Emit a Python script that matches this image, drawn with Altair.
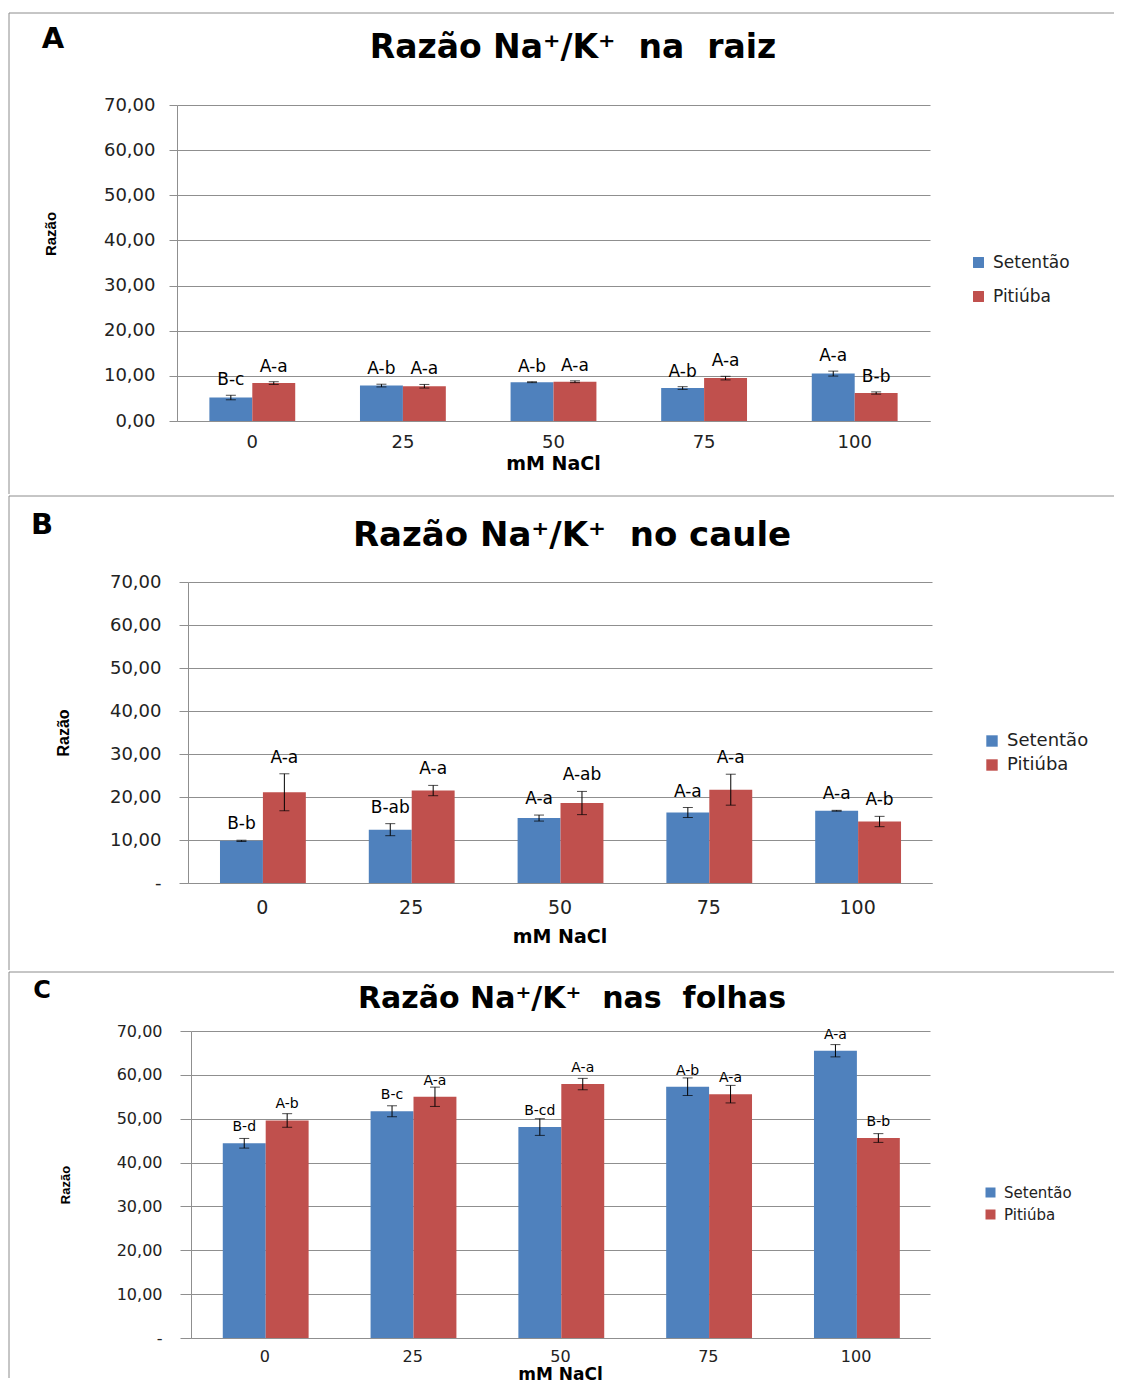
import altair as alt
import pandas as pd

# ---------------- data ----------------
concentrations = ["0", "25", "50", "75", "100"]
cultivars = ["Setentão", "Pitiúba"]
colors = ["#4F81BD", "#C0504D"]

raiz_setentao = [5.2, 7.85, 8.6, 7.3, 10.5]
raiz_setentao_err = [0.5, 0.3, 0.1, 0.3, 0.55]
raiz_setentao_lbl = ["B-c", "A-b", "A-b", "A-b", "A-a"]
raiz_pitiuba = [8.4, 7.7, 8.7, 9.5, 6.2]
raiz_pitiuba_err = [0.3, 0.4, 0.2, 0.4, 0.25]
raiz_pitiuba_lbl = ["A-a", "A-a", "A-a", "A-a", "B-b"]

caule_setentao = [9.8, 12.4, 15.1, 16.4, 16.8]
caule_setentao_err = [0.15, 1.4, 0.7, 1.15, 0.1]
caule_setentao_lbl = ["B-b", "B-ab", "A-a", "A-a", "A-a"]
caule_pitiuba = [21.1, 21.5, 18.6, 21.7, 14.3]
caule_pitiuba_err = [4.3, 1.2, 2.7, 3.6, 1.2]
caule_pitiuba_lbl = ["A-a", "A-a", "A-ab", "A-a", "A-b"]

folhas_setentao = [44.4, 51.7, 48.1, 57.3, 65.5]
folhas_setentao_err = [1.1, 1.25, 1.9, 2.0, 1.4]
folhas_setentao_lbl = ["B-d", "B-c", "B-cd", "A-b", "A-a"]
folhas_pitiuba = [49.6, 55.0, 57.9, 55.6, 45.6]
folhas_pitiuba_err = [1.55, 2.2, 1.3, 2.0, 1.0]
folhas_pitiuba_lbl = ["A-b", "A-a", "A-a", "A-a", "B-b"]

NB = "\u00a0"
titles = ["Razão Na⁺/K⁺" + NB * 2 + "na" + NB * 2 + "raiz",
          "Razão Na⁺/K⁺" + NB * 2 + "no caule",
          "Razão Na⁺/K⁺" + NB * 2 + "nas" + NB * 2 + "folhas"]
letters = ["A", "B", "C"]
y_title = "Razão"
x_title = "mM NaCl"
y_ticks = [0, 10, 20, 30, 40, 50, 60, 70]

GRID = "#8f8f8f"
BORDER = "#8c8c8c"
FONT = "DejaVu Sans"
X0 = 176          # common group origin (page x) shared by all panels
RIGHT_END = 1113
BOTTOM_END = 1378


def make_df(vs, es, ls, vp, ep, lp):
    rows = []
    for cult, vals, errs, lbls in ((cultivars[0], vs, es, ls), (cultivars[1], vp, ep, lp)):
        for c, v, e, l in zip(concentrations, vals, errs, lbls):
            rows.append({"conc": c, "cultivar": cult, "value": v,
                         "lo": v - e, "hi": v + e, "label": l})
    return pd.DataFrame(rows)


def one(text):
    return pd.DataFrame({"t": [text]})


def panel(df, idx, L):
    W, H = L["w"], L["h"]
    dx = L["left"] - X0
    ox, oy = X0, L["top"]
    zero_lbl = "'0,00'" if idx == 0 else "'-'"
    lab_expr = ("datum.value == 0 ? " + zero_lbl +
                " : replace(format(datum.value, '.2f'), '.', ',')")
    xscale = alt.Scale(paddingInner=0.43, paddingOuter=0.215, range=[dx, dx + W])
    xaxis = alt.Axis(title=None, labelAngle=0, ticks=False, grid=False,
                     domainColor=GRID, labelFont=FONT, labelFontSize=L["xfs"],
                     labelColor="#222222", labelPadding=L["xlp"])
    yscale = alt.Scale(domain=[0, 70], nice=False, zero=True)
    yaxis = alt.Axis(title=None, values=y_ticks, labelExpr=lab_expr,
                     tickSize=L["ts"], tickColor=GRID, domainColor=GRID,
                     gridColor=GRID, labelFont=FONT, labelFontSize=L["fs"],
                     labelColor="#222222", labelPadding=L["ylp"], offset=-dx)
    x = alt.X("conc:N", sort=concentrations, scale=xscale, axis=xaxis)
    xo = alt.XOffset("cultivar:N", sort=cultivars, scale=alt.Scale(paddingInner=0, paddingOuter=0))
    color = alt.Color("cultivar:N", sort=cultivars,
                      scale=alt.Scale(domain=cultivars, range=colors),
                      legend=alt.Legend(title=None, orient="none",
                                        legendX=L["lgx"] - ox, legendY=L["lgy"] - oy,
                                        labelFont=FONT, labelFontSize=L["lfs"],
                                        labelColor="#222222", symbolType="square",
                                        symbolSize=L["sym"], symbolStrokeWidth=0,
                                        rowPadding=L["rp"], labelOffset=6))
    base = alt.Chart(df)
    bars = base.mark_bar().encode(
        x=x, xOffset=xo,
        y=alt.Y("value:Q", scale=yscale, axis=yaxis),
        color=color)
    stems = base.mark_rule(color="black", strokeWidth=1).encode(
        x=x, xOffset=xo,
        y=alt.Y("lo:Q", scale=yscale, axis=yaxis), y2="hi:Q")
    cap_hi = base.mark_tick(color="black", size=10, thickness=1).encode(
        x=x, xOffset=xo, y=alt.Y("hi:Q", scale=yscale, axis=yaxis))
    cap_lo = base.mark_tick(color="black", size=10, thickness=1).encode(
        x=x, xOffset=xo, y=alt.Y("lo:Q", scale=yscale, axis=yaxis))
    lbl_field = "value:Q" if L["lbl_on_bar"] else "hi:Q"
    labels = base.mark_text(baseline="bottom", dy=L["ldy"], font=FONT,
                            fontSize=L["tfs"], color="black").encode(
        x=x, xOffset=xo, y=alt.Y(lbl_field, scale=yscale, axis=yaxis), text="label:N")

    title = alt.Chart(one(titles[idx])).mark_text(
        font=FONT, fontWeight="bold", fontSize=L["title_fs"], align="center",
        baseline="middle", color="black").encode(
        text="t:N", x=alt.value(L["title_x"] - ox), y=alt.value(L["title_y"] - oy))
    letter = alt.Chart(one(letters[idx])).mark_text(
        font=FONT, fontWeight="bold", fontSize=L["letter_fs"], align="center",
        baseline="middle", color="black").encode(
        text="t:N", x=alt.value(L["letter_x"] - ox), y=alt.value(L["letter_y"] - oy))
    ytitle = alt.Chart(one(y_title)).mark_text(
        font="Liberation Sans", fontWeight="bold", fontSize=L["yt_fs"], align="center",
        baseline="middle", angle=270, color="black").encode(
        text="t:N", x=alt.value(L["yt_x"] - ox), y=alt.value(L["yt_y"] - oy))
    xtitle = alt.Chart(one(x_title)).mark_text(
        font=FONT, fontWeight="bold", fontSize=L["xt_fs"], align="center",
        baseline="middle", color="black").encode(
        text="t:N", x=alt.value(dx + W / 2), y=alt.value(L["xt_y"] - oy))
    top_line = alt.Chart(one("")).mark_rule(color=BORDER, strokeWidth=1).encode(
        x=alt.value(8 - ox), x2=alt.value(RIGHT_END - ox), y=alt.value(L["ptop"] - oy))
    left_line = alt.Chart(one("")).mark_rule(color=BORDER, strokeWidth=1).encode(
        x=alt.value(8 - ox), y=alt.value(L["ptop"] - oy), y2=alt.value(L["pbot"] - oy))

    return alt.layer(bars, stems, cap_hi, cap_lo, labels, title, letter, ytitle,
                     xtitle, top_line, left_line).properties(width=dx + W, height=H)


layouts = [
    dict(left=176, top=104, w=753, h=316, ptop=12, pbot=493, fs=18, xfs=18, ts=8, ylp=14, xlp=12,
         lgx=969, lgy=253, lfs=17, sym=120, rp=16, tfs=17, ldy=-6, lbl_on_bar=False,
         title_fs=33, title_x=572, title_y=47, letter_fs=29, letter_x=52, letter_y=38,
         yt_fs=15, yt_x=50, yt_y=233, xt_fs=19, xt_y=463),
    dict(left=187, top=581, w=744, h=301, ptop=495, pbot=969, fs=18, xfs=19, ts=9, ylp=18, xlp=15,
         lgx=982, lgy=731, lfs=18, sym=130, rp=6, tfs=17, ldy=-7, lbl_on_bar=False,
         title_fs=34, title_x=571, title_y=535, letter_fs=29, letter_x=41, letter_y=524,
         yt_fs=16, yt_x=63, yt_y=732, xt_fs=19, xt_y=936),
    dict(left=190, top=1031, w=739, h=307, ptop=972, pbot=BOTTOM_END, fs=16, xfs=16, ts=11, ylp=18, xlp=10,
         lgx=982, lgy=1185, lfs=15, sym=100, rp=6, tfs=14, ldy=-9, lbl_on_bar=True,
         title_fs=30, title_x=571, title_y=999, letter_fs=24, letter_x=41, letter_y=991,
         yt_fs=13, yt_x=65, yt_y=1185, xt_fs=17, xt_y=1375),
]

dfs = [
    make_df(raiz_setentao, raiz_setentao_err, raiz_setentao_lbl,
            raiz_pitiuba, raiz_pitiuba_err, raiz_pitiuba_lbl),
    make_df(caule_setentao, caule_setentao_err, caule_setentao_lbl,
            caule_pitiuba, caule_pitiuba_err, caule_pitiuba_lbl),
    make_df(folhas_setentao, folhas_setentao_err, folhas_setentao_lbl,
            folhas_pitiuba, folhas_pitiuba_err, folhas_pitiuba_lbl),
]

panels = [panel(dfs[i], i, layouts[i]) for i in range(3)]

chart = alt.vconcat(*panels, spacing=0).resolve_scale(
    color="independent", x="independent", y="independent"
).resolve_legend(color="independent").properties(
    padding={"left": 0, "top": 4, "right": 0, "bottom": 0},
    background="white",
).configure_view(stroke=None)

chart.save("out.html", embed_options={"renderer": "svg", "actions": False})
